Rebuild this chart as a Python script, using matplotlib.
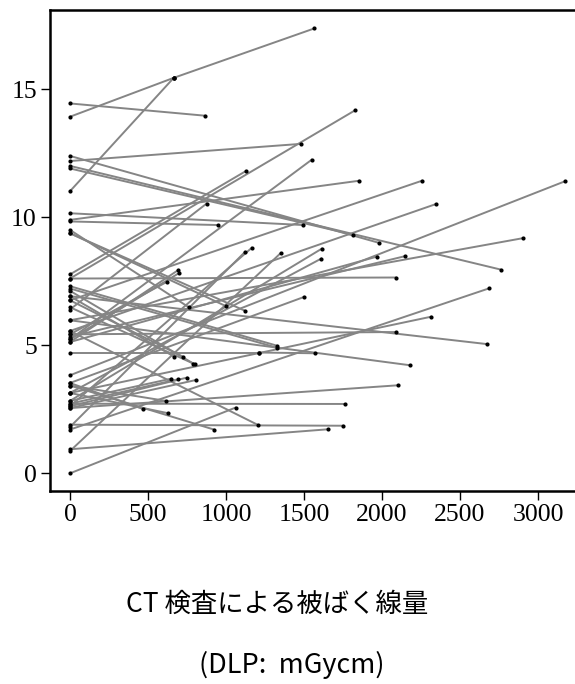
import numpy as np
import matplotlib
matplotlib.use("Agg")
import matplotlib.pyplot as plt

# each row = one segment: (start DLP, start value) -> (end DLP, end value)
start_dlp = [0, 0, 0, 665, 0, 0, 0, 0, 0, 0,
             0, 0, 0, 0, 0, 0, 0, 0, 0, 0,
             0, 0, 0, 0, 0, 0, 1209, 0, 0, 0,
             0, 0, 0, 0, 0, 0, 0, 0, 0, 0,
             0, 0, 0, 0, 0, 0, 0, 0, 0, 0,
             0, 0, 0, 0, 0, 0, 0, 0, 0, 0]
start_val = [14.45, 13.93, 11.02, 15.45, 12.20, 12.40, 12.01, 11.91, 9.90, 7.61,
             5.23, 6.76, 5.56, 3.83, 5.98, 10.16, 9.84, 7.61, 7.77, 5.13,
             5.33, 1.71, 3.14, 5.43, 6.92, 4.72, 4.72, 5.98, 2.55, 2.72,
             1.90, 0.94, 0.00, 5.56, 3.43, 6.40, 2.83, 3.14, 2.62, 1.81,
             0.87, 3.53, 5.13, 5.23, 5.43, 9.51, 9.38, 9.38, 7.31, 7.22,
             6.92, 6.76, 6.49, 7.13, 2.83, 2.72, 2.62, 2.55, 3.43, 3.53]
end_dlp = [867, 665, 665, 1566, 1479, 1983, 2761, 1816, 1853, 1827,
           1549, 2256, 2346, 3173, 2906, 1494, 946, 2088, 1128, 1970,
           2145, 2688, 2316, 2092, 2671, 1209, 1572, 2182, 2103, 1765,
           1750, 1652, 1062, 1205, 923, 876, 1615, 1611, 1165, 1122,
           1350, 1500, 694, 701, 624, 761, 1000, 1122, 1325, 1325,
           667, 726, 790, 799, 650, 690, 750, 810, 615, 470]
end_val = [13.97, 15.45, 15.45, 17.38, 12.87, 9.00, 7.96, 9.32, 11.43, 14.18,
           12.25, 11.43, 10.52, 11.41, 9.19, 9.70, 9.70, 7.65, 11.81, 8.47,
           8.48, 7.23, 6.12, 5.52, 5.05, 4.72, 4.69, 4.22, 3.44, 2.71,
           1.86, 1.72, 2.57, 1.89, 1.71, 10.54, 8.78, 8.39, 8.81, 8.65,
           8.60, 6.89, 7.94, 7.83, 7.49, 6.49, 6.53, 6.35, 4.99, 4.91,
           4.56, 4.55, 4.29, 4.26, 3.70, 3.67, 3.74, 3.65, 2.83, 2.51]
extra_dlp = [628]      # one more short segment from 3.14
extra_val = [2.35]

xticks = [0, 500, 1000, 1500, 2000, 2500, 3000]
yticks = [0, 5, 10, 15]

fig = plt.figure(figsize=(5.75, 6.84), dpi=100)
ax = fig.add_axes([50 / 575, (684 - 491) / 684, 1 - 50 / 575, 481 / 684])

sx = start_dlp + [0]
sy = start_val + [3.14]
ex = end_dlp + extra_dlp
ey = end_val + extra_val
for x0, y0, x1, y1 in zip(sx, sy, ex, ey):
    ax.plot([x0, x1], [y0, y1], color="#858585", lw=1.4, zorder=2)
ax.scatter(sx + ex, sy + ey, s=9, color="black", zorder=3, linewidths=0)

ax.set_xlim(-128, 3237)
ax.set_ylim(-0.69, 18.1)
ax.set_xticks(xticks)
ax.set_yticks(yticks)
ax.spines["right"].set_visible(False)
for s in ["left", "top", "bottom"]:
    ax.spines[s].set_linewidth(1.8)
    ax.spines[s].set_color("black")
ax.tick_params(length=6.5, width=1.0, labelsize=18.5, pad=3)
for lab in ax.get_xticklabels() + ax.get_yticklabels():
    lab.set_fontfamily("Liberation Serif")

fig.text(277 / 575, 1 - 604 / 684, "CT 検査による被ばく線量", ha="center", va="center",
         fontsize=19, family=["Noto Sans CJK JP", "DejaVu Sans"])
fig.text(292 / 575, 1 - 665 / 684, "(DLP:  mGycm)", ha="center", va="center",
         fontsize=19.5, family=["Noto Sans CJK JP", "DejaVu Sans"])

fig.savefig("out.png", dpi=100)
